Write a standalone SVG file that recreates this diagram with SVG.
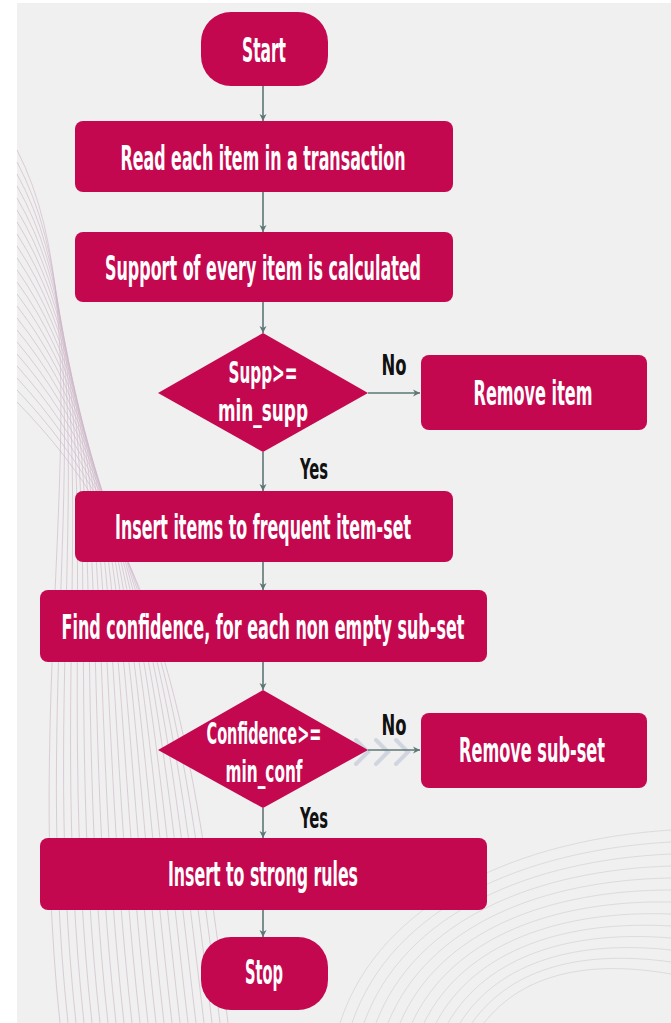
<svg xmlns="http://www.w3.org/2000/svg" width="671" height="1023" viewBox="0 0 671 1023">
  <style>
    .node { fill: #c4084f; }
    .lbl { font-family: "DejaVu Sans Condensed", "Liberation Sans Narrow", "Liberation Sans", sans-serif; font-weight: bold; font-size: 18px; fill: #ffffff; text-anchor: middle; }
    .tag { font-family: "DejaVu Sans Condensed", "Liberation Sans Narrow", "Liberation Sans", sans-serif; font-weight: bold; font-size: 16px; fill: #111111; text-anchor: middle; }
    .edge { stroke: #5d7777; stroke-width: 1.6; fill: none; marker-end: url(#arrow); }
    .wave { fill: none; stroke: #a9789d; stroke-width: 0.6; }
    .swirl { fill: none; stroke: #b8b8b8; stroke-width: 0.6; }
  </style>
  <defs>
    <marker id="arrow" viewBox="0 0 10 10" refX="10" refY="5" markerWidth="7" markerHeight="9" markerUnits="userSpaceOnUse" orient="auto">
      <path d="M0,0 L10,5 L0,10 L3,5 Z" fill="#5d7777"/>
    </marker>
  </defs>

  <!-- backdrop -->
  <rect x="0" y="0" width="671" height="1023" fill="#ffffff"/>
  <rect x="17" y="3" width="654" height="1020" fill="#f0f0f0"/>

  <!-- decorative ribbon, left -->
  <g opacity="0.5">
    <path class="wave" d="M17,150 C110,330 20,650 60,1023"/>
    <path class="wave" d="M17,162 C112,340 28,652 68,1023"/>
    <path class="wave" d="M17,174 C114,350 36,654 76,1023"/>
    <path class="wave" d="M17,186 C116,360 44,656 84,1023"/>
    <path class="wave" d="M17,198 C118,370 52,658 92,1023"/>
    <path class="wave" d="M17,210 C120,380 60,660 100,1023"/>
    <path class="wave" d="M17,222 C122,390 68,662 108,1023"/>
    <path class="wave" d="M17,234 C124,400 76,664 116,1023"/>
    <path class="wave" d="M17,246 C126,410 84,666 124,1023"/>
    <path class="wave" d="M17,258 C128,420 92,668 132,1023"/>
    <path class="wave" d="M17,270 C130,430 100,670 140,1023"/>
    <path class="wave" d="M17,282 C132,440 108,672 148,1023"/>
    <path class="wave" d="M17,294 C134,450 116,674 156,1023"/>
    <path class="wave" d="M17,306 C136,460 124,676 164,1023"/>
    <path class="wave" d="M17,318 C138,470 132,678 172,1023"/>
    <path class="wave" d="M17,330 C140,480 140,680 180,1023"/>
    <path class="wave" d="M17,342 C142,490 148,682 188,1023"/>
    <path class="wave" d="M17,354 C144,500 156,684 196,1023"/>
    <path class="wave" d="M17,366 C146,510 164,686 204,1023"/>
    <path class="wave" d="M17,378 C148,520 172,688 212,1023"/>
    <path class="wave" d="M17,390 C150,530 180,690 220,1023"/>
    <path class="wave" d="M17,402 C152,540 188,692 228,1023"/>
  </g>

  <!-- decorative swirl, lower right -->
  <g opacity="0.6">
    <path class="swirl" d="M340,1023 C380,900 520,840 671,830"/>
    <path class="swirl" d="M352,1023 C392,906 526,850 671,842"/>
    <path class="swirl" d="M364,1023 C404,912 532,860 671,854"/>
    <path class="swirl" d="M376,1023 C416,918 538,870 671,866"/>
    <path class="swirl" d="M388,1023 C428,924 544,880 671,878"/>
    <path class="swirl" d="M400,1023 C440,930 550,890 671,890"/>
    <path class="swirl" d="M412,1023 C452,936 556,900 671,902"/>
    <path class="swirl" d="M424,1023 C464,942 562,910 671,914"/>
    <path class="swirl" d="M436,1023 C476,948 568,920 671,926"/>
    <path class="swirl" d="M448,1023 C488,954 574,930 671,938"/>
    <path class="swirl" d="M460,1023 C500,960 580,940 671,950"/>
    <path class="swirl" d="M472,1023 C512,966 586,950 671,962"/>
    <path class="swirl" d="M484,1023 C524,972 592,960 671,974"/>
  </g>

  <!-- chevrons behind the lower "No" branch -->
  <g fill="none" stroke="#c3cad8" stroke-width="4" stroke-linecap="round" opacity="0.7">
    <path d="M356,740 L368,752 L356,764"/>
    <path d="M376,740 L388,752 L376,764"/>
    <path d="M396,740 L408,752 L396,764"/>
  </g>

  <!-- connectors -->
  <g id="connectors">
    <line class="edge" x1="263" y1="86" x2="263" y2="121"/>
    <line class="edge" x1="263" y1="192" x2="263" y2="232"/>
    <line class="edge" x1="263" y1="302" x2="263" y2="333"/>
    <line class="edge" x1="263" y1="452" x2="263" y2="491"/>
    <line class="edge" x1="263" y1="562" x2="263" y2="590"/>
    <line class="edge" x1="263" y1="662" x2="263" y2="690"/>
    <line class="edge" x1="263" y1="808" x2="263" y2="838"/>
    <line class="edge" x1="263" y1="910" x2="263" y2="937"/>
    <line class="edge" x1="368" y1="393" x2="420" y2="393"/>
    <line class="edge" x1="368" y1="750" x2="420" y2="750"/>
    <text class="tag" transform="translate(394,375) scale(1,1.8)" textLength="25" lengthAdjust="spacingAndGlyphs">No</text>
    <text class="tag" transform="translate(314,479) scale(1,1.8)" textLength="28" lengthAdjust="spacingAndGlyphs">Yes</text>
    <text class="tag" transform="translate(394,735) scale(1,1.8)" textLength="25" lengthAdjust="spacingAndGlyphs">No</text>
    <text class="tag" transform="translate(314,828) scale(1,1.8)" textLength="28" lengthAdjust="spacingAndGlyphs">Yes</text>
  </g>

  <!-- nodes -->
  <g id="start">
    <rect class="node" x="201" y="12" width="127" height="74" rx="30"/>
    <text class="lbl" transform="translate(264,62) scale(1,1.83)" textLength="44" lengthAdjust="spacingAndGlyphs">Start</text>
  </g>
  <g id="read-items">
    <rect class="node" x="75" y="121" width="378" height="71" rx="8"/>
    <text class="lbl" transform="translate(263,170) scale(1,1.83)" textLength="285" lengthAdjust="spacingAndGlyphs">Read each item in a transaction</text>
  </g>
  <g id="support">
    <rect class="node" x="75" y="232" width="378" height="70" rx="8"/>
    <text class="lbl" transform="translate(263,280) scale(1,1.83)" textLength="316" lengthAdjust="spacingAndGlyphs">Support of every item is calculated</text>
  </g>
  <g id="supp-check">
    <polygon class="node" points="263,333 368,393 263,452 158,393"/>
    <text class="lbl" transform="translate(263,383) scale(1,1.7)" textLength="69" lengthAdjust="spacingAndGlyphs">Supp&gt;=</text>
    <text class="lbl" transform="translate(263,421) scale(1,1.7)" textLength="90" lengthAdjust="spacingAndGlyphs">min_supp</text>
  </g>
  <g id="remove-item">
    <rect class="node" x="421" y="355" width="226" height="75" rx="8"/>
    <text class="lbl" transform="translate(533,405) scale(1,1.83)" textLength="119" lengthAdjust="spacingAndGlyphs">Remove item</text>
  </g>
  <g id="frequent-set">
    <rect class="node" x="75" y="491" width="378" height="71" rx="8"/>
    <text class="lbl" transform="translate(263,539) scale(1,1.83)" textLength="296" lengthAdjust="spacingAndGlyphs">Insert items to frequent item-set</text>
  </g>
  <g id="confidence">
    <rect class="node" x="40" y="590" width="447" height="72" rx="8"/>
    <text class="lbl" transform="translate(263,639) scale(1,1.83)" textLength="403" lengthAdjust="spacingAndGlyphs">Find confidence, for each non empty sub-set</text>
  </g>
  <g id="conf-check">
    <polygon class="node" points="263,690 368,750 263,808 158,750"/>
    <text class="lbl" transform="translate(264,744) scale(1,1.7)" textLength="115" lengthAdjust="spacingAndGlyphs">Confidence&gt;=</text>
    <text class="lbl" transform="translate(264,782) scale(1,1.7)" textLength="77" lengthAdjust="spacingAndGlyphs">min_conf</text>
  </g>
  <g id="remove-subset">
    <rect class="node" x="421" y="713" width="226" height="75" rx="8"/>
    <text class="lbl" transform="translate(532,762) scale(1,1.83)" textLength="146" lengthAdjust="spacingAndGlyphs">Remove sub-set</text>
  </g>
  <g id="strong-rules">
    <rect class="node" x="40" y="838" width="447" height="72" rx="8"/>
    <text class="lbl" transform="translate(263,886) scale(1,1.83)" textLength="190" lengthAdjust="spacingAndGlyphs">Insert to strong rules</text>
  </g>
  <g id="stop">
    <rect class="node" x="201" y="937" width="127" height="73" rx="30"/>
    <text class="lbl" transform="translate(264,984) scale(1,1.83)" textLength="38" lengthAdjust="spacingAndGlyphs">Stop</text>
  </g>
</svg>
